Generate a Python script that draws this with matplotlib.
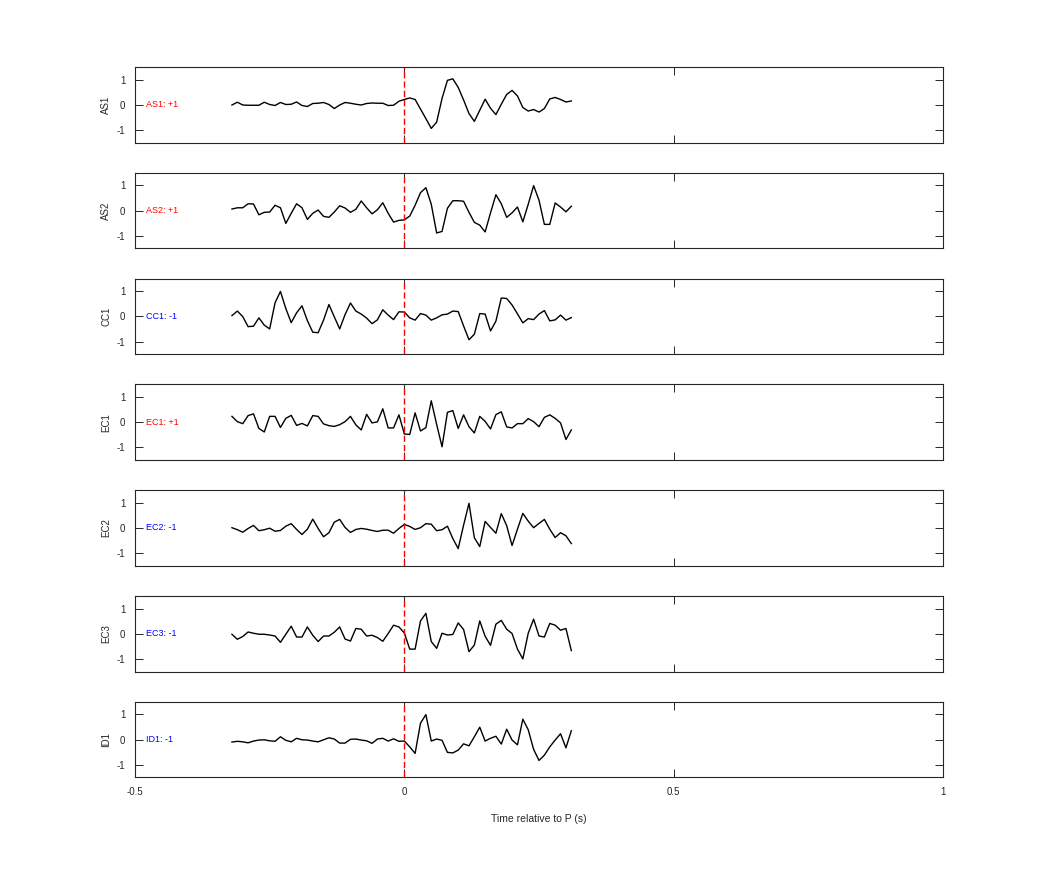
import numpy as np
import matplotlib
matplotlib.use("Agg")
import matplotlib.pyplot as plt

plt.rcParams['font.family'] = ['Liberation Sans', 'DejaVu Sans']
plt.rcParams['axes.unicode_minus'] = False

# time axis: 100 Hz samples from -0.32 s to 0.31 s
t = np.arange(-32, 32) * 0.01

stations = ["AS1", "AS2", "CC1", "EC1", "EC2", "EC3", "ID1"]
polarity = [+1, +1, -1, +1, -1, -1, -1]

as1 = [-0.01, 0.10, -0.01, -0.02, -0.02, -0.02, 0.10, 0.01, -0.03, 0.09, 0.01, 0.02, 0.11, -0.03, -0.07, 0.05,
       0.06, 0.09, 0.01, -0.15, -0.01, 0.09, 0.06, 0.02, -0.01, 0.05, 0.07, 0.06, 0.06, -0.03, -0.02, 0.14,
       0.21, 0.27, 0.21, -0.17, -0.55, -0.94, -0.69, 0.25, 0.97, 1.03, 0.69, 0.19, -0.35, -0.66, -0.22, 0.22,
       -0.14, -0.39, 0.02, 0.41, 0.57, 0.35, -0.11, -0.25, -0.19, -0.29, -0.15, 0.23, 0.29, 0.21, 0.11, 0.15]
as2 = [0.06, 0.11, 0.11, 0.27, 0.26, -0.17, -0.07, -0.06, 0.21, 0.11, -0.51, -0.11, 0.27, 0.11, -0.35, -0.11,
       0.02, -0.23, -0.27, -0.06, 0.19, 0.10, -0.07, 0.05, 0.38, 0.11, -0.13, 0.03, 0.31, -0.11, -0.46, -0.39,
       -0.37, -0.22, 0.21, 0.71, 0.91, 0.25, -0.89, -0.83, 0.09, 0.39, 0.39, 0.37, -0.07, -0.47, -0.58, -0.85,
       -0.09, 0.63, 0.27, -0.27, -0.09, 0.14, -0.45, 0.25, 0.99, 0.41, -0.55, -0.55, 0.30, 0.14, -0.05, 0.17]
cc1 = [0.03, 0.21, -0.01, -0.41, -0.39, -0.06, -0.35, -0.50, 0.54, 0.99, 0.31, -0.25, 0.14, 0.42, -0.17, -0.63,
       -0.65, -0.15, 0.47, -0.02, -0.50, 0.07, 0.53, 0.21, 0.09, -0.07, -0.29, -0.14, 0.26, 0.05, -0.13, 0.18,
       0.17, -0.06, -0.15, 0.11, 0.05, -0.15, -0.06, 0.06, 0.09, 0.21, 0.19, -0.38, -0.93, -0.71, 0.11, 0.09,
       -0.58, -0.19, 0.73, 0.71, 0.45, 0.10, -0.26, -0.09, -0.13, 0.09, 0.23, -0.18, -0.14, 0.05, -0.15, -0.05]
ec1 = [0.23, 0.02, -0.06, 0.26, 0.33, -0.25, -0.39, 0.23, 0.23, -0.21, 0.15, 0.27, -0.13, -0.05, -0.15, 0.26,
       0.23, -0.07, -0.14, -0.17, -0.10, 0.02, 0.23, -0.11, -0.31, 0.31, -0.03, 0.01, 0.53, -0.23, -0.23, 0.29,
       -0.47, -0.49, 0.37, -0.35, -0.22, 0.85, -0.09, -0.98, 0.39, 0.46, -0.25, 0.29, -0.18, -0.43, 0.23, 0.03,
       -0.27, 0.30, 0.41, -0.19, -0.23, -0.06, -0.06, 0.14, 0.02, -0.18, 0.19, 0.29, 0.15, -0.03, -0.69, -0.31]
ec2 = [0.01, -0.07, -0.17, -0.02, 0.10, -0.11, -0.07, -0.01, -0.13, -0.10, 0.07, 0.17, -0.06, -0.26, -0.05, 0.35,
       -0.02, -0.35, -0.19, 0.23, 0.34, 0.02, -0.18, -0.06, -0.02, -0.05, -0.10, -0.14, -0.09, -0.09, -0.21, -0.02,
       0.14, 0.06, -0.06, 0.01, 0.17, 0.15, -0.11, -0.07, 0.07, -0.42, -0.82, 0.11, 0.98, -0.39, -0.74, 0.26,
       0.02, -0.21, 0.57, 0.09, -0.70, -0.05, 0.58, 0.27, 0.01, 0.18, 0.34, -0.05, -0.38, -0.19, -0.31, -0.62]
ec3 = [-0.02, -0.22, -0.11, 0.07, 0.02, -0.02, -0.02, -0.05, -0.09, -0.34, -0.02, 0.30, -0.13, -0.13, 0.27, -0.06,
       -0.31, -0.09, -0.09, 0.06, 0.27, -0.21, -0.29, 0.21, 0.18, -0.09, -0.06, -0.15, -0.30, 0.01, 0.34, 0.27,
       0.03, -0.61, -0.61, 0.51, 0.81, -0.31, -0.58, 0.02, -0.05, -0.03, 0.43, 0.17, -0.71, -0.45, 0.51, -0.10,
       -0.46, 0.38, 0.53, 0.18, 0.01, -0.61, -1.00, 0.02, 0.58, -0.09, -0.13, 0.41, 0.34, 0.14, 0.21, -0.67]
id1 = [-0.10, -0.07, -0.09, -0.13, -0.06, -0.02, -0.01, -0.05, -0.07, 0.11, -0.03, -0.09, 0.05, -0.01, -0.02, -0.06,
       -0.09, -0.01, 0.07, 0.02, -0.14, -0.14, 0.01, 0.02, -0.02, -0.05, -0.15, 0.02, 0.05, -0.06, 0.03, -0.07,
       -0.06, -0.29, -0.55, 0.65, 0.99, -0.06, 0.02, -0.03, -0.51, -0.53, -0.42, -0.17, -0.25, 0.11, 0.49, -0.06,
       0.05, 0.13, -0.18, 0.41, -0.02, -0.21, 0.81, 0.39, -0.39, -0.83, -0.62, -0.29, -0.02, 0.23, -0.33, 0.35]

traces = [as1, as2, cc1, ec1, ec2, ec3, id1]

fig = plt.figure(figsize=(10.42, 8.75), dpi=100)
W, H = 1042.0, 875.0
ax_left, ax_w = 135 / W, 808 / W
ax_h = 75.5 / H

for k, (name, pol, y) in enumerate(zip(stations, polarity, traces)):
    top = 67 + 105.8 * k
    ax = fig.add_axes([ax_left, 1 - (top + 75.5) / H, ax_w, ax_h])
    ax.plot(t, y, color='k', lw=1.0)
    ax.plot([0, 0], [-1.5, 1.5], color='r', lw=1.0, ls=(0, (4.5, 2.2)))
    col = 'r' if pol > 0 else 'b'
    ax.text(-0.48, 0, "%s: %+d" % (name, pol), color=col, fontsize=6.5, va='center', ha='left')
    ax.set_xlim(-0.5, 1)
    ax.set_ylim(-1.5, 1.5)
    ax.set_yticks([-1, 0, 1])
    ax.set_xticks([-0.5, 0, 0.5, 1])
    ax.tick_params(direction='in', length=5.8, width=0.7, top=True, right=True,
                   labelsize=7, colors='#262626', pad=7)
    for s in ax.spines.values():
        s.set_linewidth(0.8)
        s.set_color('#262626')
    ax.set_ylabel(name, fontsize=7, color='#262626', labelpad=4)
    if k < len(stations) - 1:
        ax.set_xticklabels([])
    else:
        ax.set_xticklabels(['-0.5', '0', '0.5', '1'])
        ax.set_xlabel("Time relative to P (s)", fontsize=7.5, color='#262626', labelpad=12)

fig.savefig("out.png", dpi=100)
